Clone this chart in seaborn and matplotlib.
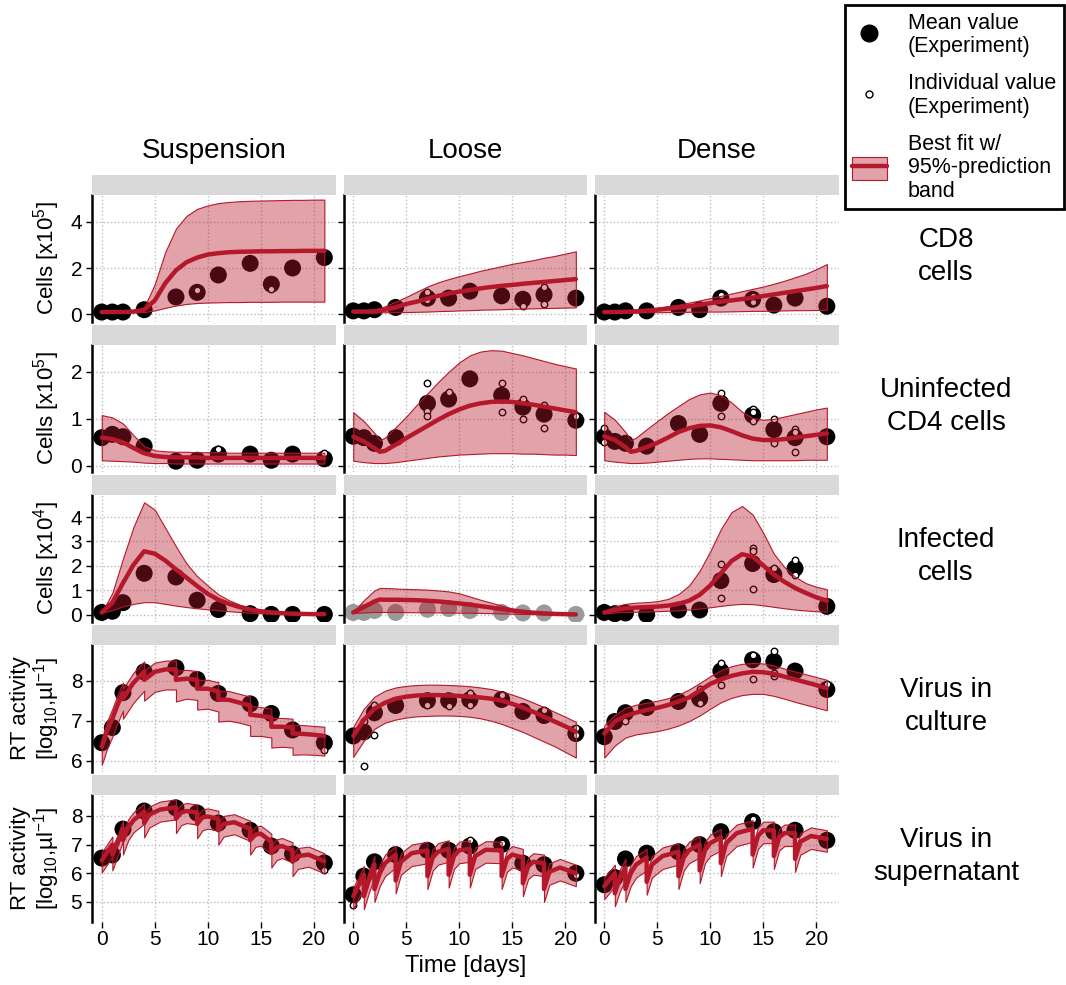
import matplotlib
matplotlib.use("Agg")
import matplotlib.pyplot as plt
import seaborn as sns
from matplotlib.lines import Line2D
from matplotlib.patches import Patch

sns.set_theme(style="white")
plt.rcParams['font.family'] = ['Liberation Sans', 'DejaVu Sans']
plt.rcParams['mathtext.fontset'] = 'custom'
plt.rcParams['mathtext.rm'] = 'Liberation Sans'
plt.rcParams['text.color'] = 'black'
plt.rcParams['axes.labelcolor'] = 'black'
plt.rcParams['xtick.color'] = 'black'
plt.rcParams['ytick.color'] = 'black'

# ---- sampling days and fit grids ----
days = [0, 1, 2, 4, 7, 9, 11, 14, 16, 18, 21]
grid = list(range(22))
grid_dip = [0, 1, 2, 2.5] + list(range(3, 22))
saw_cul_t = [0, 0.5, 1, 1.5, 2, 2, 3, 4, 4, 5, 6, 7, 7, 8, 9, 9, 10, 11, 11, 12,
             13, 14, 14, 15, 16, 16, 17, 18, 18, 19, 20, 21]
saw_sup_t = [0, 1, 1, 1.5, 2, 2, 2.5, 3, 4, 4, 4.5, 5.5, 7, 7, 7.5, 8, 9, 9, 9.5, 10,
             11, 11, 11.5, 12.5, 14, 14, 14.5, 15, 16, 16, 16.5, 17, 18, 18, 18.5, 19.5, 21]

columns = ['Suspension', 'Loose', 'Dense']
row_names = ['CD8\ncells', 'Uninfected\nCD4 cells', 'Infected\ncells',
             'Virus in\nculture', 'Virus in\nsupernatant']
row_ylabels = ['Cells [x10$^5$]', 'Cells [x10$^5$]', 'Cells [x10$^4$]',
               'RT activity\n[log$_{10}$,µl$^{-1}$]', 'RT activity\n[log$_{10}$,µl$^{-1}$]']
row_ticks = [[0, 2, 4], [0, 1, 2], [0, 1, 2, 3, 4], [6, 7, 8], [5, 6, 7, 8]]
row_ylims = [(-0.33, 5.15), (-0.13, 2.57), (-0.29, 4.9), (5.72, 8.89), (4.3, 8.73)]

# ---- CD8 cells ----
cd8_sus_mean = [0.1, 0.1, 0.1, 0.2, 0.75, 0.95, 1.7, 2.2, 1.3, 2.0, 2.45]
cd8_sus_fit = [0.1, 0.1, 0.1, 0.12, 0.2, 0.6, 1.35, 1.9, 2.25, 2.45, 2.58, 2.64, 2.68,
               2.7, 2.71, 2.72, 2.72, 2.73, 2.73, 2.74, 2.74, 2.74]
cd8_sus_hi = [0.1, 0.1, 0.12, 0.15, 0.3, 1.3, 2.7, 3.7, 4.25, 4.55, 4.7, 4.8, 4.85,
              4.88, 4.9, 4.91, 4.92, 4.93, 4.94, 4.94, 4.95, 4.95]
cd8_sus_lo = [0.08, 0.08, 0.08, 0.09, 0.1, 0.17, 0.28, 0.38, 0.45, 0.49, 0.51, 0.52,
              0.53, 0.53, 0.54, 0.54, 0.54, 0.55, 0.55, 0.55, 0.55, 0.55]
cd8_sus_ind_t = [9, 16]
cd8_sus_ind_v = [1.05, 1.1]

cd8_loose_mean = [0.15, 0.15, 0.2, 0.3, 0.7, 0.7, 1.0, 0.8, 0.65, 0.85, 0.7]
cd8_loose_fit = [0.12, 0.12, 0.13, 0.2, 0.3, 0.45, 0.55, 0.68, 0.8, 0.9, 0.98, 1.05,
                 1.12, 1.18, 1.23, 1.27, 1.32, 1.36, 1.4, 1.44, 1.48, 1.52]
cd8_loose_hi = [0.15, 0.15, 0.2, 0.35, 0.55, 0.75, 0.98, 1.2, 1.38, 1.52, 1.65, 1.76,
                1.88, 1.98, 2.08, 2.18, 2.26, 2.34, 2.44, 2.52, 2.62, 2.72]
cd8_loose_lo = [0.08, 0.08, 0.08, 0.09, 0.09, 0.1, 0.11, 0.12, 0.14, 0.15, 0.17, 0.18,
                0.2, 0.21, 0.22, 0.24, 0.25, 0.26, 0.27, 0.28, 0.29, 0.3]
cd8_loose_ind_t = [7, 7, 16, 18, 18]
cd8_loose_ind_v = [0.95, 0.6, 0.36, 1.17, 0.45]

cd8_dense_mean = [0.1, 0.1, 0.15, 0.15, 0.3, 0.2, 0.7, 0.65, 0.4, 0.7, 0.35]
cd8_dense_fit = [0.1, 0.1, 0.11, 0.13, 0.16, 0.2, 0.25, 0.3, 0.35, 0.41, 0.48, 0.55,
                 0.6, 0.66, 0.72, 0.79, 0.86, 0.93, 1.0, 1.07, 1.14, 1.22]
cd8_dense_hi = [0.12, 0.13, 0.15, 0.18, 0.22, 0.28, 0.35, 0.42, 0.51, 0.6, 0.7, 0.8,
                0.9, 1.0, 1.1, 1.2, 1.32, 1.45, 1.6, 1.75, 1.95, 2.17]
cd8_dense_lo = [0.08, 0.08, 0.08, 0.08, 0.09, 0.09, 0.1, 0.1, 0.11, 0.11, 0.12, 0.12,
                0.13, 0.14, 0.15, 0.15, 0.16, 0.17, 0.18, 0.18, 0.19, 0.2]
cd8_dense_ind_t = [11, 14, 14]
cd8_dense_ind_v = [0.82, 0.55, 0.78]

# ---- Uninfected CD4 cells ----
cd4_sus_mean = [0.6, 0.67, 0.62, 0.42, 0.1, 0.12, 0.25, 0.25, 0.12, 0.25, 0.15]
cd4_sus_fit = [0.6, 0.57, 0.5, 0.38, 0.27, 0.21, 0.19, 0.18, 0.18, 0.18, 0.17, 0.17,
               0.17, 0.17, 0.17, 0.17, 0.17, 0.17, 0.17, 0.17, 0.17, 0.17]
cd4_sus_hi = [1.08, 1.03, 0.9, 0.65, 0.42, 0.33, 0.31, 0.3, 0.3, 0.29, 0.29, 0.29,
              0.28, 0.28, 0.28, 0.28, 0.28, 0.28, 0.28, 0.28, 0.28, 0.28]
cd4_sus_lo = [0.12, 0.11, 0.1, 0.09, 0.07, 0.06, 0.06, 0.05, 0.05, 0.05, 0.05, 0.05,
              0.05, 0.05, 0.05, 0.05, 0.05, 0.05, 0.05, 0.05, 0.05, 0.05]
cd4_sus_ind_t = [11, 21]
cd4_sus_ind_v = [0.35, 0.28]

cd4_loose_mean = [0.63, 0.6, 0.48, 0.6, 1.33, 1.42, 1.85, 1.5, 1.25, 1.1, 0.97]
cd4_loose_fit = [0.62, 0.52, 0.38, 0.3, 0.32, 0.45, 0.59, 0.72, 0.85, 0.98, 1.1, 1.2,
                 1.28, 1.33, 1.36, 1.37, 1.36, 1.33, 1.3, 1.26, 1.22, 1.18, 1.14]
cd4_loose_hi = [1.14, 0.95, 0.7, 0.55, 0.6, 0.82, 1.05, 1.3, 1.54, 1.78, 2.0, 2.2,
                2.35, 2.43, 2.46, 2.45, 2.4, 2.35, 2.29, 2.23, 2.17, 2.12, 2.07]
cd4_loose_lo = [0.11, 0.08, 0.06, 0.06, 0.06, 0.08, 0.11, 0.14, 0.17, 0.2, 0.22, 0.24,
                0.25, 0.26, 0.27, 0.27, 0.27, 0.26, 0.26, 0.25, 0.24, 0.24, 0.23]
cd4_loose_ind_t = [7, 7, 7, 9, 14, 14, 16, 16, 18, 18, 21]
cd4_loose_ind_v = [1.77, 1.17, 1.06, 1.58, 1.77, 1.14, 1.42, 1.0, 1.29, 0.8, 1.07]

cd4_dense_mean = [0.62, 0.52, 0.48, 0.42, 0.9, 0.67, 1.33, 1.08, 0.77, 0.6, 0.62]
cd4_dense_fit = [0.63, 0.55, 0.4, 0.3, 0.32, 0.4, 0.49, 0.6, 0.72, 0.8, 0.85, 0.86,
                 0.82, 0.74, 0.65, 0.58, 0.55, 0.55, 0.57, 0.6, 0.63, 0.66, 0.69]
cd4_dense_hi = [1.15, 0.98, 0.72, 0.55, 0.6, 0.78, 0.95, 1.12, 1.27, 1.42, 1.52, 1.56,
                1.5, 1.35, 1.15, 1.02, 0.98, 1.0, 1.05, 1.1, 1.15, 1.2, 1.24]
cd4_dense_lo = [0.12, 0.09, 0.07, 0.06, 0.06, 0.07, 0.09, 0.11, 0.13, 0.15, 0.16, 0.16,
                0.15, 0.14, 0.13, 0.12, 0.12, 0.12, 0.12, 0.12, 0.13, 0.13, 0.13]
cd4_dense_ind_t = [0, 0, 11, 11, 14, 14, 14, 16, 16, 18, 18, 18]
cd4_dense_ind_v = [0.8, 0.5, 1.54, 1.07, 1.21, 1.15, 0.95, 1.0, 0.48, 0.78, 0.73, 0.29]

# ---- Infected cells ----
inf_sus_mean = [0.1, 0.15, 0.5, 1.7, 1.55, 0.6, 0.22, 0.05, 0.02, 0.02, 0.02]
inf_sus_fit = [0.1, 0.5, 1.3, 2.05, 2.6, 2.5, 2.22, 1.86, 1.52, 1.18, 0.86, 0.62, 0.45,
               0.32, 0.22, 0.15, 0.1, 0.07, 0.05, 0.04, 0.03, 0.03]
inf_sus_hi = [0.1, 0.9, 2.3, 3.6, 4.6, 4.3, 3.55, 2.8, 2.1, 1.58, 1.2, 0.84, 0.6, 0.42,
              0.3, 0.2, 0.14, 0.1, 0.07, 0.05, 0.04, 0.04]
inf_sus_lo = [0.08, 0.2, 0.35, 0.45, 0.52, 0.52, 0.45, 0.38, 0.32, 0.27, 0.23, 0.19,
              0.15, 0.12, 0.09, 0.07, 0.05, 0.04, 0.03, 0.02, 0.02, 0.02]
inf_sus_ind_t = []
inf_sus_ind_v = []

inf_loose_mean = [0.1, 0.1, 0.18, 0.1, 0.23, 0.26, 0.18, 0.1, 0.08, 0.08, 0.02]
inf_loose_fit = [0.1, 0.32, 0.55, 0.63, 0.62, 0.62, 0.61, 0.6, 0.58, 0.55, 0.51, 0.47,
                 0.42, 0.36, 0.3, 0.24, 0.18, 0.13, 0.09, 0.06, 0.04, 0.03, 0.02]
inf_loose_hi = [0.12, 0.6, 1.0, 1.1, 1.1, 1.08, 1.06, 1.05, 1.03, 1.0, 0.96, 0.88,
                0.75, 0.62, 0.5, 0.38, 0.26, 0.16, 0.1, 0.07, 0.05, 0.04, 0.03]
inf_loose_lo = [0.08, 0.1, 0.12, 0.12, 0.12, 0.12, 0.11, 0.11, 0.11, 0.1, 0.1, 0.09,
                0.09, 0.08, 0.07, 0.06, 0.05, 0.04, 0.03, 0.02, 0.02, 0.01, 0.01]
inf_loose_ind_t = []
inf_loose_ind_v = []

inf_dense_mean = [0.1, 0.05, 0.08, 0.02, 0.2, 0.2, 1.4, 2.1, 1.65, 1.9, 0.35]
inf_dense_fit = [0.1, 0.2, 0.27, 0.3, 0.32, 0.34, 0.38, 0.45, 0.58, 0.82, 1.2, 1.7,
                 2.2, 2.48, 2.38, 2.02, 1.65, 1.35, 1.1, 0.9, 0.72, 0.58]
inf_dense_hi = [0.15, 0.35, 0.45, 0.5, 0.52, 0.56, 0.65, 0.85, 1.2, 1.8, 2.6, 3.5, 4.2,
                4.45, 4.1, 3.35, 2.5, 1.95, 1.56, 1.3, 1.15, 1.05]
inf_dense_lo = [0.06, 0.1, 0.12, 0.13, 0.14, 0.15, 0.17, 0.19, 0.22, 0.26, 0.31, 0.37,
                0.42, 0.45, 0.44, 0.39, 0.33, 0.27, 0.22, 0.18, 0.15, 0.13]
inf_dense_ind_t = [11, 11, 14, 14, 14, 16, 18, 18]
inf_dense_ind_v = [2.08, 0.69, 2.72, 2.61, 1.07, 1.9, 2.24, 1.65]

# ---- Virus in culture ----
cul_sus_mean = [6.45, 6.83, 7.7, 8.22, 8.32, 8.03, 7.68, 7.42, 7.18, 6.77, 6.45]
cul_sus_fit = [6.35, 6.75, 7.05, 7.4, 7.7, 7.55, 7.95, 8.22, 8.02, 8.22, 8.28, 8.28,
               8.02, 8.05, 8.02, 7.8, 7.8, 7.73, 7.53, 7.52, 7.45, 7.38, 7.15, 7.12,
               7.08, 6.85, 6.85, 6.83, 6.68, 6.67, 6.65, 6.62]
cul_sus_hi = [6.55, 6.98, 7.3, 7.65, 7.95, 7.8, 8.2, 8.48, 8.25, 8.45, 8.5, 8.5, 8.25,
              8.27, 8.24, 8.02, 8.02, 7.96, 7.75, 7.74, 7.67, 7.6, 7.37, 7.34, 7.3,
              7.07, 7.07, 7.05, 6.9, 6.89, 6.87, 6.85]
cul_sus_lo = [5.9, 6.3, 6.6, 6.95, 7.25, 7.05, 7.45, 7.75, 7.5, 7.72, 7.78, 7.78, 7.48,
              7.55, 7.52, 7.28, 7.3, 7.23, 6.98, 7.0, 6.95, 6.88, 6.62, 6.62, 6.58,
              6.33, 6.35, 6.33, 6.15, 6.16, 6.15, 6.13]
cul_sus_ind_t = [21]
cul_sus_ind_v = [6.27]

cul_loose_mean = [6.62, 6.72, 7.2, 7.38, 7.5, 7.5, 7.52, 7.53, 7.23, 7.13, 6.68]
cul_loose_fit = [6.62, 7.02, 7.3, 7.45, 7.55, 7.6, 7.63, 7.64, 7.64, 7.63, 7.62, 7.6,
                 7.58, 7.55, 7.5, 7.42, 7.33, 7.22, 7.1, 6.98, 6.86, 6.73]
cul_loose_hi = [6.85, 7.3, 7.6, 7.75, 7.83, 7.87, 7.89, 7.9, 7.9, 7.89, 7.88, 7.86,
                7.83, 7.79, 7.73, 7.65, 7.56, 7.45, 7.34, 7.22, 7.1, 6.97]
cul_loose_lo = [6.1, 6.5, 6.8, 6.95, 7.03, 7.08, 7.11, 7.12, 7.13, 7.13, 7.12, 7.1,
                7.06, 7.0, 6.92, 6.82, 6.72, 6.6, 6.48, 6.36, 6.22, 6.08]
cul_loose_ind_t = [1, 1, 2, 2, 7, 9, 11, 11, 14, 18, 21, 21]
cul_loose_ind_v = [5.88, 7.0, 6.64, 7.4, 7.38, 7.37, 7.69, 7.4, 7.63, 7.28, 6.82, 6.65]

cul_dense_mean = [6.6, 6.98, 7.2, 7.33, 7.48, 7.55, 8.24, 8.52, 8.48, 8.24, 7.78]
cul_dense_fit = [6.68, 6.98, 7.12, 7.2, 7.27, 7.32, 7.39, 7.48, 7.58, 7.75, 7.92, 8.03,
                 8.12, 8.18, 8.22, 8.21, 8.17, 8.1, 8.03, 7.96, 7.89, 7.81]
cul_dense_hi = [6.88, 7.15, 7.32, 7.4, 7.45, 7.5, 7.56, 7.65, 7.78, 7.94, 8.11, 8.26,
                8.36, 8.42, 8.44, 8.43, 8.38, 8.3, 8.23, 8.16, 8.09, 8.02]
cul_dense_lo = [6.08, 6.38, 6.58, 6.66, 6.7, 6.74, 6.8, 6.88, 6.99, 7.13, 7.3, 7.46,
                7.57, 7.64, 7.67, 7.67, 7.62, 7.55, 7.47, 7.4, 7.33, 7.26]
cul_dense_ind_t = [2, 9, 9, 11, 11, 14, 14, 16, 16, 16, 21]
cul_dense_ind_v = [7.0, 7.78, 7.45, 8.45, 7.88, 8.65, 8.03, 8.73, 8.12, 8.2, 7.92]

# ---- Virus in supernatant ----
sup_sus_mean = [6.53, 6.64, 7.54, 8.17, 8.28, 8.1, 7.75, 7.5, 6.95, 6.67, 6.36]
sup_sus_fit = [6.45, 7.0, 6.65, 7.05, 7.55, 7.15, 7.6, 7.85, 8.15, 7.75, 8.05, 8.22,
               8.3, 7.9, 8.12, 8.17, 8.12, 7.72, 7.95, 7.98, 7.9, 7.5, 7.72, 7.78, 7.55,
               7.15, 7.35, 7.38, 7.1, 6.7, 6.9, 6.95, 6.8, 6.4, 6.6, 6.65, 6.42]
sup_sus_hi = [6.73, 7.28, 6.93, 7.33, 7.83, 7.43, 7.88, 8.13, 8.43, 8.03, 8.33, 8.5,
              8.58, 8.18, 8.4, 8.45, 8.4, 8.0, 8.23, 8.26, 8.18, 7.78, 8.0, 8.06, 7.83,
              7.43, 7.63, 7.66, 7.38, 6.98, 7.18, 7.23, 7.08, 6.68, 6.88, 6.93, 6.7]
sup_sus_lo = [6.03, 6.58, 6.1, 6.6, 7.13, 6.65, 7.15, 7.43, 7.73, 7.25, 7.6, 7.8, 7.88,
              7.4, 7.68, 7.75, 7.7, 7.22, 7.5, 7.56, 7.48, 7.0, 7.28, 7.36, 7.13, 6.65,
              6.92, 6.96, 6.68, 6.2, 6.46, 6.53, 6.38, 5.9, 6.15, 6.23, 6.0]
sup_sus_ind_t = [21]
sup_sus_ind_v = [6.1]

sup_loose_mean = [5.25, 5.9, 6.4, 6.65, 6.8, 6.8, 6.95, 7.0, 6.35, 6.3, 6.0]
sup_loose_fit = [5.2, 5.95, 5.2, 5.8, 6.3, 5.45, 6.0, 6.35, 6.65, 5.75, 6.4, 6.7, 6.8,
                 5.9, 6.55, 6.75, 6.85, 5.95, 6.6, 6.8, 6.85, 5.95, 6.6, 6.82, 6.8, 5.9,
                 6.5, 6.65, 6.55, 5.65, 6.25, 6.4, 6.35, 5.45, 6.05, 6.2, 6.0]
sup_loose_hi = [5.5, 6.25, 5.5, 6.1, 6.6, 5.75, 6.3, 6.65, 6.95, 6.05, 6.7, 7.0, 7.1,
                6.2, 6.85, 7.05, 7.15, 6.25, 6.9, 7.1, 7.15, 6.25, 6.9, 7.12, 7.1, 6.2,
                6.8, 6.95, 6.85, 5.95, 6.55, 6.7, 6.65, 5.75, 6.35, 6.5, 6.3]
sup_loose_lo = [4.75, 5.5, 4.75, 5.35, 5.85, 5.0, 5.55, 5.9, 6.2, 5.3, 5.95, 6.25,
                6.35, 5.45, 6.1, 6.3, 6.4, 5.5, 6.15, 6.35, 6.4, 5.5, 6.15, 6.37, 6.35,
                5.45, 6.05, 6.2, 6.1, 5.2, 5.8, 5.95, 5.9, 5.0, 5.6, 5.75, 5.55]
sup_loose_ind_t = [0, 11, 14, 21]
sup_loose_ind_v = [4.9, 7.15, 7.05, 5.95]

sup_dense_mean = [5.6, 5.85, 6.5, 6.7, 6.75, 7.0, 7.45, 7.8, 7.45, 7.5, 7.15]
sup_dense_fit = [5.55, 6.0, 5.3, 5.85, 6.2, 5.45, 6.0, 6.3, 6.55, 5.7, 6.3, 6.6, 6.75,
                 5.9, 6.55, 6.8, 7.0, 6.1, 6.8, 7.05, 7.25, 6.35, 7.05, 7.4, 7.55, 6.65,
                 7.3, 7.5, 7.5, 6.6, 7.25, 7.4, 7.4, 6.5, 7.1, 7.3, 7.2]
sup_dense_hi = [5.85, 6.3, 5.6, 6.15, 6.5, 5.75, 6.3, 6.6, 6.85, 6.0, 6.6, 6.9, 7.05,
                6.2, 6.85, 7.1, 7.3, 6.4, 7.1, 7.35, 7.55, 6.65, 7.35, 7.7, 7.85, 6.95,
                7.6, 7.8, 7.8, 6.9, 7.55, 7.7, 7.7, 6.8, 7.4, 7.6, 7.5]
sup_dense_lo = [5.1, 5.55, 4.85, 5.4, 5.75, 5.0, 5.55, 5.85, 6.1, 5.25, 5.85, 6.15,
                6.3, 5.45, 6.1, 6.35, 6.55, 5.65, 6.35, 6.6, 6.8, 5.9, 6.6, 6.95, 7.1,
                6.2, 6.85, 7.05, 7.05, 6.15, 6.8, 6.95, 6.95, 6.05, 6.65, 6.85, 6.75]
sup_dense_ind_t = [14]
sup_dense_ind_v = [7.9]

RED = '#b5172b'
BAND = (181 / 255, 23 / 255, 43 / 255, 0.4)

panels = [
    [(grid, cd8_sus_fit, cd8_sus_lo, cd8_sus_hi, cd8_sus_mean, cd8_sus_ind_t, cd8_sus_ind_v, 'black'),
     (grid, cd8_loose_fit, cd8_loose_lo, cd8_loose_hi, cd8_loose_mean, cd8_loose_ind_t, cd8_loose_ind_v, 'black'),
     (grid, cd8_dense_fit, cd8_dense_lo, cd8_dense_hi, cd8_dense_mean, cd8_dense_ind_t, cd8_dense_ind_v, 'black')],
    [(grid, cd4_sus_fit, cd4_sus_lo, cd4_sus_hi, cd4_sus_mean, cd4_sus_ind_t, cd4_sus_ind_v, 'black'),
     (grid_dip, cd4_loose_fit, cd4_loose_lo, cd4_loose_hi, cd4_loose_mean, cd4_loose_ind_t, cd4_loose_ind_v, 'black'),
     (grid_dip, cd4_dense_fit, cd4_dense_lo, cd4_dense_hi, cd4_dense_mean, cd4_dense_ind_t, cd4_dense_ind_v, 'black')],
    [(grid, inf_sus_fit, inf_sus_lo, inf_sus_hi, inf_sus_mean, inf_sus_ind_t, inf_sus_ind_v, 'black'),
     (grid_dip, inf_loose_fit, inf_loose_lo, inf_loose_hi, inf_loose_mean, inf_loose_ind_t, inf_loose_ind_v, '#9a9a9a'),
     (grid, inf_dense_fit, inf_dense_lo, inf_dense_hi, inf_dense_mean, inf_dense_ind_t, inf_dense_ind_v, 'black')],
    [(saw_cul_t, cul_sus_fit, cul_sus_lo, cul_sus_hi, cul_sus_mean, cul_sus_ind_t, cul_sus_ind_v, 'black'),
     (grid, cul_loose_fit, cul_loose_lo, cul_loose_hi, cul_loose_mean, cul_loose_ind_t, cul_loose_ind_v, 'black'),
     (grid, cul_dense_fit, cul_dense_lo, cul_dense_hi, cul_dense_mean, cul_dense_ind_t, cul_dense_ind_v, 'black')],
    [(saw_sup_t, sup_sus_fit, sup_sus_lo, sup_sus_hi, sup_sus_mean, sup_sus_ind_t, sup_sus_ind_v, 'black'),
     (saw_sup_t, sup_loose_fit, sup_loose_lo, sup_loose_hi, sup_loose_mean, sup_loose_ind_t, sup_loose_ind_v, 'black'),
     (saw_sup_t, sup_dense_fit, sup_dense_lo, sup_dense_hi, sup_dense_mean, sup_dense_ind_t, sup_dense_ind_v, 'black')],
]

W, H = 1066, 985
fig = plt.figure(figsize=(W / 100, H / 100), dpi=100)

col_x = [92, 343.5, 594.5]
col_w = 244
row_top = [195, 345, 495, 645, 795]
row_h = 127
strip_h = 20


def draw_panel(ax, t, fit, lo, hi, mean, ind_t, ind_v, pcolor):
    sns.scatterplot(x=days, y=mean, color=pcolor, s=150, edgecolor='none',
                    ax=ax, zorder=2, legend=False)
    if ind_t:
        sns.scatterplot(x=ind_t, y=ind_v, color='white', edgecolor='black', s=22,
                        linewidth=1, ax=ax, zorder=2, legend=False)
    ax.fill_between(t, lo, hi, facecolor=BAND, edgecolor=RED, linewidth=0.8, zorder=3)
    sns.lineplot(x=t, y=fit, estimator=None, sort=False, color=RED, linewidth=3.2,
                 ax=ax, zorder=4)


for r in range(5):
    for c in range(3):
        x0 = col_x[c]
        y0 = row_top[r]
        ax = fig.add_axes([x0 / W, 1 - (y0 + row_h) / H, col_w / W, row_h / H])
        strip = fig.add_axes([x0 / W, 1 - y0 / H, col_w / W, strip_h / H])
        strip.set_facecolor('#d9d9d9')
        strip.set_xticks([])
        strip.set_yticks([])
        for s in strip.spines.values():
            s.set_visible(False)

        draw_panel(ax, *panels[r][c])

        ax.set_xlim(-0.92, 22.1)
        ax.set_ylim(*row_ylims[r])
        ax.set_yticks(row_ticks[r])
        ax.set_xticks([0, 5, 10, 15, 20])
        ax.grid(True, linestyle=':', color='#bdbdbd', linewidth=1.0)
        for name in ['top', 'right', 'bottom']:
            ax.spines[name].set_visible(False)
        ax.spines['left'].set_color('black')
        ax.spines['left'].set_linewidth(1.8)
        ax.tick_params(axis='y', left=True, length=4, width=1, labelsize=15, pad=3)
        if r == 4:
            ax.tick_params(axis='x', bottom=True, length=4, width=1, labelsize=15, pad=2)
            if c == 1:
                ax.set_xlabel('Time [days]', fontsize=17)
            else:
                ax.set_xlabel('')
        else:
            ax.tick_params(axis='x', bottom=False, labelbottom=False)
            ax.set_xlabel('')
        if c == 0:
            ax.set_ylabel(row_ylabels[r], fontsize=16, linespacing=1.0, labelpad=6)
        else:
            ax.set_ylabel('')
            ax.tick_params(axis='y', labelleft=False)
        if r == 0:
            strip.set_title(columns[c], fontsize=20, pad=12)

for r in range(5):
    yc = row_top[r] + row_h / 2 - 2
    fig.text(946 / W, 1 - yc / H, row_names[r], fontsize=20, ha='center',
             va='center', linespacing=1.35)

handles = [
    Line2D([], [], marker='o', linestyle='none', color='black', markersize=12),
    Line2D([], [], marker='o', linestyle='none', markerfacecolor='white',
           markeredgecolor='black', markersize=5),
    (Patch(facecolor=BAND, edgecolor=RED, linewidth=0.8),
     Line2D([], [], color=RED, linewidth=3.2)),
]
labels = ['Mean value\n(Experiment)', 'Individual value\n(Experiment)',
          'Best fit w/\n95%-prediction\nband']
leg = fig.legend(handles, labels, loc='upper right', bbox_to_anchor=(1.0, 0.997),
                 frameon=True, fancybox=False, edgecolor='black', framealpha=1,
                 fontsize=15.5, handlelength=1.6, handleheight=1.3,
                 handletextpad=1.0, borderpad=0.35, labelspacing=0.75,
                 borderaxespad=0.1)
leg.get_frame().set_linewidth(2)
for txt in leg.get_texts():
    txt.set_linespacing(1.15)

fig.savefig('out.png', dpi=100)
